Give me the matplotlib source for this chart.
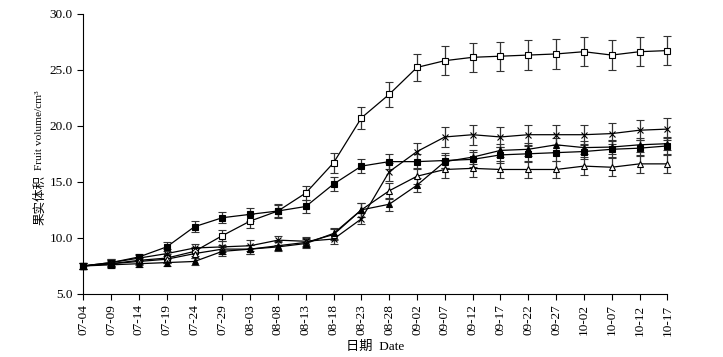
import numpy as np
import matplotlib
matplotlib.use('Agg')
import matplotlib.pyplot as plt

dates = ['07-04', '07-09', '07-14', '07-19', '07-24', '07-29', '08-03', '08-08',
         '08-13', '08-18', '08-23', '08-28', '09-02', '09-07', '09-12', '09-17',
         '09-22', '09-27', '10-02', '10-07', '10-12', '10-17']

open_sq = [7.5, 7.7, 8.0, 8.2, 8.8, 10.2, 11.5, 12.4, 14.0, 16.7, 20.7, 22.8,
           25.2, 25.8, 26.1, 26.2, 26.3, 26.4, 26.6, 26.3, 26.6, 26.7]
open_sq_err = [0.3, 0.3, 0.3, 0.4, 0.4, 0.5, 0.6, 0.5, 0.6, 0.9, 1.0, 1.1,
               1.2, 1.3, 1.3, 1.3, 1.3, 1.3, 1.3, 1.3, 1.3, 1.3]

fill_sq = [7.5, 7.8, 8.3, 9.2, 11.0, 11.8, 12.1, 12.4, 12.8, 14.8, 16.4, 16.8,
           16.8, 16.9, 17.0, 17.4, 17.5, 17.6, 17.7, 17.9, 18.0, 18.2]
fill_sq_err = [0.3, 0.3, 0.3, 0.4, 0.5, 0.5, 0.6, 0.6, 0.6, 0.6, 0.6, 0.7,
               0.7, 0.7, 0.7, 0.7, 0.7, 0.7, 0.7, 0.7, 0.7, 0.7]

cross = [7.5, 7.8, 8.2, 8.6, 9.1, 9.2, 9.3, 9.8, 9.7, 9.9, 11.7, 15.9,
         17.7, 19.0, 19.2, 19.0, 19.2, 19.2, 19.2, 19.3, 19.6, 19.7]
cross_err = [0.3, 0.3, 0.3, 0.4, 0.4, 0.5, 0.5, 0.4, 0.4, 0.4, 0.5, 0.8,
             0.8, 0.9, 0.9, 0.9, 0.9, 0.9, 0.9, 0.9, 0.9, 1.0]

open_tri = [7.5, 7.7, 7.9, 8.1, 8.6, 9.0, 9.0, 9.3, 9.6, 10.3, 12.5, 14.2,
            15.5, 16.1, 16.2, 16.1, 16.1, 16.1, 16.4, 16.3, 16.6, 16.6]
open_tri_err = [0.3, 0.3, 0.3, 0.3, 0.4, 0.4, 0.4, 0.4, 0.4, 0.5, 0.6, 0.7,
                0.7, 0.8, 0.8, 0.8, 0.8, 0.8, 0.8, 0.8, 0.8, 0.8]

fill_tri = [7.5, 7.6, 7.7, 7.8, 7.9, 8.8, 9.0, 9.2, 9.5, 10.4, 12.5, 13.0,
            14.7, 16.8, 17.2, 17.8, 17.9, 18.3, 18.05, 18.1, 18.3, 18.4]
fill_tri_err = [0.3, 0.3, 0.3, 0.3, 0.3, 0.4, 0.4, 0.4, 0.4, 0.5, 0.6, 0.6,
                0.6, 0.6, 0.6, 0.6, 0.6, 0.6, 0.6, 0.6, 0.6, 0.6]

plt.rcParams['font.family'] = ['Liberation Serif', 'Noto Sans CJK SC']

fig = plt.figure(figsize=(7.23, 3.57), dpi=100)
ax = fig.add_axes([0.1152, 0.1765, 0.8078, 0.7855])

x = np.arange(len(dates))
series = [
    (open_sq, open_sq_err, 's', 'white'),
    (fill_sq, fill_sq_err, 's', 'black'),
    (cross, cross_err, 'x', 'black'),
    (open_tri, open_tri_err, '^', 'white'),
    (fill_tri, fill_tri_err, '^', 'black'),
]
for vals, err, mk, fc in series:
    lines = ax.errorbar(x, vals, yerr=err, color='black', lw=0.9, marker=mk,
                        markersize=4.5, markerfacecolor=fc, markeredgecolor='black',
                        markeredgewidth=0.8, ecolor='#333333', elinewidth=0.9,
                        capsize=3, capthick=0.9)
    for art in lines.get_children():
        art.set_clip_on(False)

ax.set_xlim(0, len(dates) - 1)
ax.set_ylim(5, 30)
ax.set_xticks(x)
ax.set_xticklabels(dates, rotation=90, fontsize=9.5)
ax.set_yticks(np.arange(5, 30.1, 5))
ax.set_yticklabels(['%.1f' % v for v in np.arange(5, 30.1, 5)], fontsize=9.5)
ax.spines['top'].set_visible(False)
ax.spines['right'].set_visible(False)
ax.tick_params(direction='out', length=4, width=0.8)

# y label: Chinese part and English part placed separately
fig.text(0.0553, 0.4398, '果实体积', rotation=90, ha='center', va='center',
         fontsize=9)
fig.text(0.0553, 0.6359, 'Fruit volume/cm³', rotation=90, ha='center',
         va='center', fontsize=8.2)
ax.set_xlabel('日期  Date', fontsize=9.5, labelpad=4)

fig.savefig('out.png', dpi=100)
